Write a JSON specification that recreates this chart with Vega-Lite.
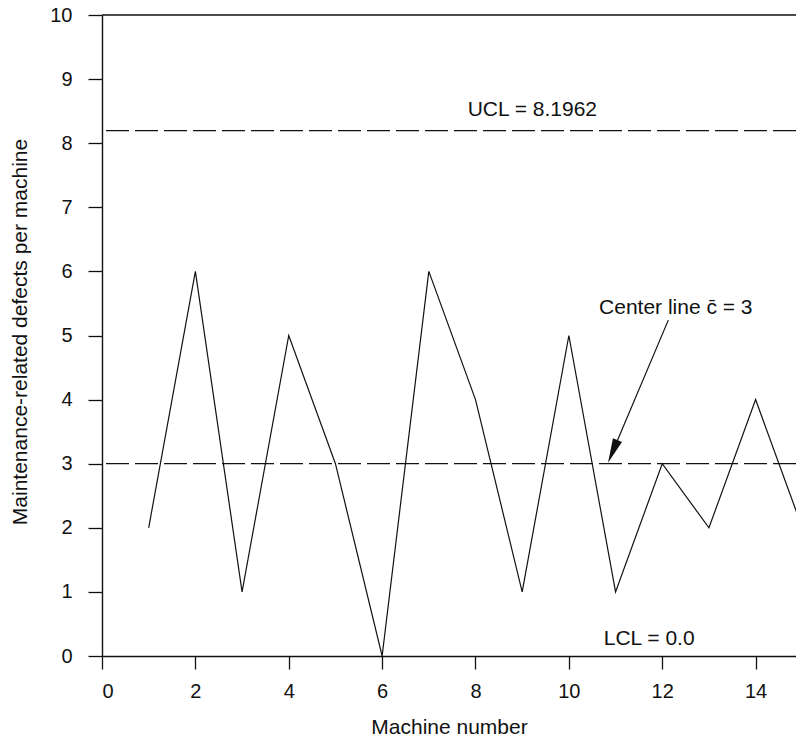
{
  "$schema": "https://vega.github.io/schema/vega-lite/v6.json",
  "width": 694,
  "height": 641,
  "autosize": {"type": "none"},
  "padding": {"left": 102, "top": 15, "right": 0, "bottom": 82},
  "background": "white",
  "config": {
    "view": {"stroke": null},
    "font": "Liberation Sans",
    "axis": {
      "grid": false,
      "domainColor": "#111",
      "domainWidth": 1.4,
      "tickColor": "#111",
      "tickWidth": 1.3,
      "labelFont": "Liberation Sans",
      "labelFontSize": 20,
      "labelColor": "#111",
      "titleFont": "Liberation Sans",
      "titleFontSize": 21,
      "titleFontWeight": "normal",
      "titleColor": "#111"
    }
  },
  "datasets": {
    "defects": [
      {"x": 1, "y": 2}, {"x": 2, "y": 6}, {"x": 3, "y": 1}, {"x": 4, "y": 5},
      {"x": 5, "y": 3}, {"x": 6, "y": 0}, {"x": 7, "y": 6}, {"x": 8, "y": 4},
      {"x": 9, "y": 1}, {"x": 10, "y": 5}, {"x": 11, "y": 1}, {"x": 12, "y": 3},
      {"x": 13, "y": 2}, {"x": 14, "y": 4}, {"x": 15, "y": 2}
    ],
    "limits": [{"y": 8.1962}, {"y": 3}],
    "border": [{"y": 10}],
    "labels": [
      {"x": 9.218, "y": 8.424, "label": "UCL = 8.1962"},
      {"x": 12.29, "y": 5.335, "label": "Center line c\u0304 = 3"},
      {"x": 11.72, "y": 0.172, "label": "LCL = 0.0"}
    ],
    "arrow": [{"x": 12.13, "y": 5.24, "x2": 10.94, "y2": 3.19}]
  },
  "layer": [
    {
      "data": {"name": "defects"},
      "mark": {"type": "line", "color": "#111", "strokeWidth": 1.2, "clip": true},
      "encoding": {
        "x": {
          "field": "x", "type": "quantitative",
          "scale": {"domain": [0, 14.865], "nice": false, "zero": true},
          "axis": {"values": [0, 2, 4, 6, 8, 10, 12, 14], "format": "d", "title": "Machine number", "tickSize": 13, "labelPadding": 12, "titleBaseline": "alphabetic", "titleY": 77, "titleAnchor": "middle"}
        },
        "y": {
          "field": "y", "type": "quantitative",
          "scale": {"domain": [0, 10], "nice": false},
          "axis": {"values": [0, 1, 2, 3, 4, 5, 6, 7, 8, 9, 10], "format": "d", "title": "Maintenance-related defects per machine", "tickSize": 14, "labelPadding": 16, "titleBaseline": "alphabetic", "titleX": -76, "titleY": 316.5, "titleAngle": -90, "titleAlign": "center"}
        }
      }
    },
    {
      "data": {"name": "limits"},
      "mark": {"type": "rule", "color": "#111", "strokeWidth": 1.2, "strokeDash": [23, 6]},
      "encoding": {"y": {"field": "y", "type": "quantitative"}}
    },
    {
      "data": {"name": "border"},
      "mark": {"type": "rule", "color": "#111", "strokeWidth": 1.4},
      "encoding": {"y": {"field": "y", "type": "quantitative"}}
    },
    {
      "data": {"name": "labels"},
      "mark": {"type": "text", "font": "Liberation Sans", "fontSize": 21, "color": "#111", "align": "center", "baseline": "alphabetic"},
      "encoding": {
        "x": {"field": "x", "type": "quantitative"},
        "y": {"field": "y", "type": "quantitative"},
        "text": {"field": "label"}
      }
    },
    {
      "data": {"name": "arrow"},
      "mark": {"type": "rule", "color": "#111", "strokeWidth": 1.2},
      "encoding": {
        "x": {"field": "x", "type": "quantitative"},
        "y": {"field": "y", "type": "quantitative"},
        "x2": {"field": "x2"},
        "y2": {"field": "y2"}
      }
    },
    {
      "data": {"name": "arrow"},
      "mark": {"type": "point", "shape": "M0,1L-0.4,-1L0.4,-1Z", "filled": true, "color": "#111", "opacity": 1, "size": 600, "angle": 22.7},
      "encoding": {
        "x": {"field": "x2", "type": "quantitative"},
        "y": {"field": "y2", "type": "quantitative"}
      }
    }
  ]
}
